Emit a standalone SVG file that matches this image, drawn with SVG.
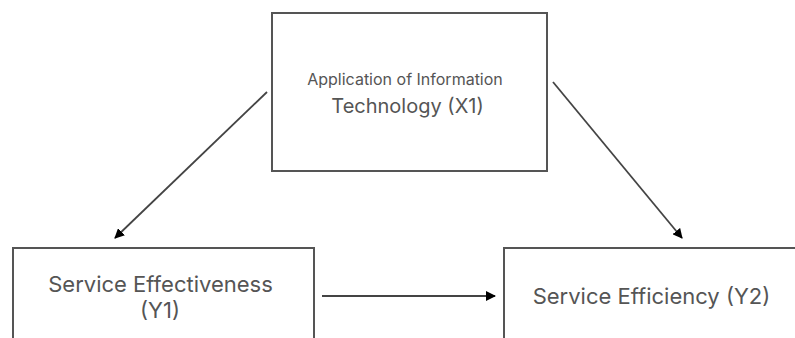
<svg xmlns="http://www.w3.org/2000/svg" width="795" height="338" viewBox="0 0 795 338">
<style>
.box{fill:#fff;stroke:#555;stroke-width:2}
.t{font-family:Inter,"Noto Sans",sans-serif;fill:#555;text-anchor:middle}
.c{stroke:#444;stroke-width:1.8;fill:none;marker-end:url(#ah)}
</style>
<defs>
<marker id="ah" viewBox="0 0 10 10" refX="9" refY="5" markerWidth="10" markerHeight="10" markerUnits="userSpaceOnUse" orient="auto">
<path d="M0,0 L10,5 L0,10 z" fill="#000"/>
</marker>
</defs>
<rect width="795" height="338" fill="#fff"/>
<g id="x1">
<rect class="box" x="272" y="13" width="275" height="158"/>
<text class="t" x="405" y="85" font-size="16">Application of Information</text>
<text class="t" x="407.5" y="113" font-size="20">Technology (X1)</text>
</g>
<g id="y1">
<rect class="box" x="13" y="248" width="301" height="100"/>
<text class="t" x="160.5" y="292" font-size="22">Service Effectiveness</text>
<text class="t" x="160" y="318" font-size="22">(Y1)</text>
</g>
<g id="y2">
<rect class="box" x="504" y="248" width="300" height="100"/>
<text class="t" x="651.5" y="304" font-size="22">Service Efficiency (Y2)</text>
</g>
<g id="connectors">
<line class="c" x1="267" y1="92" x2="115" y2="238"/>
<line class="c" x1="553" y1="82" x2="682" y2="238"/>
<line class="c" x1="322" y1="296" x2="495" y2="296"/>
</g>
</svg>
